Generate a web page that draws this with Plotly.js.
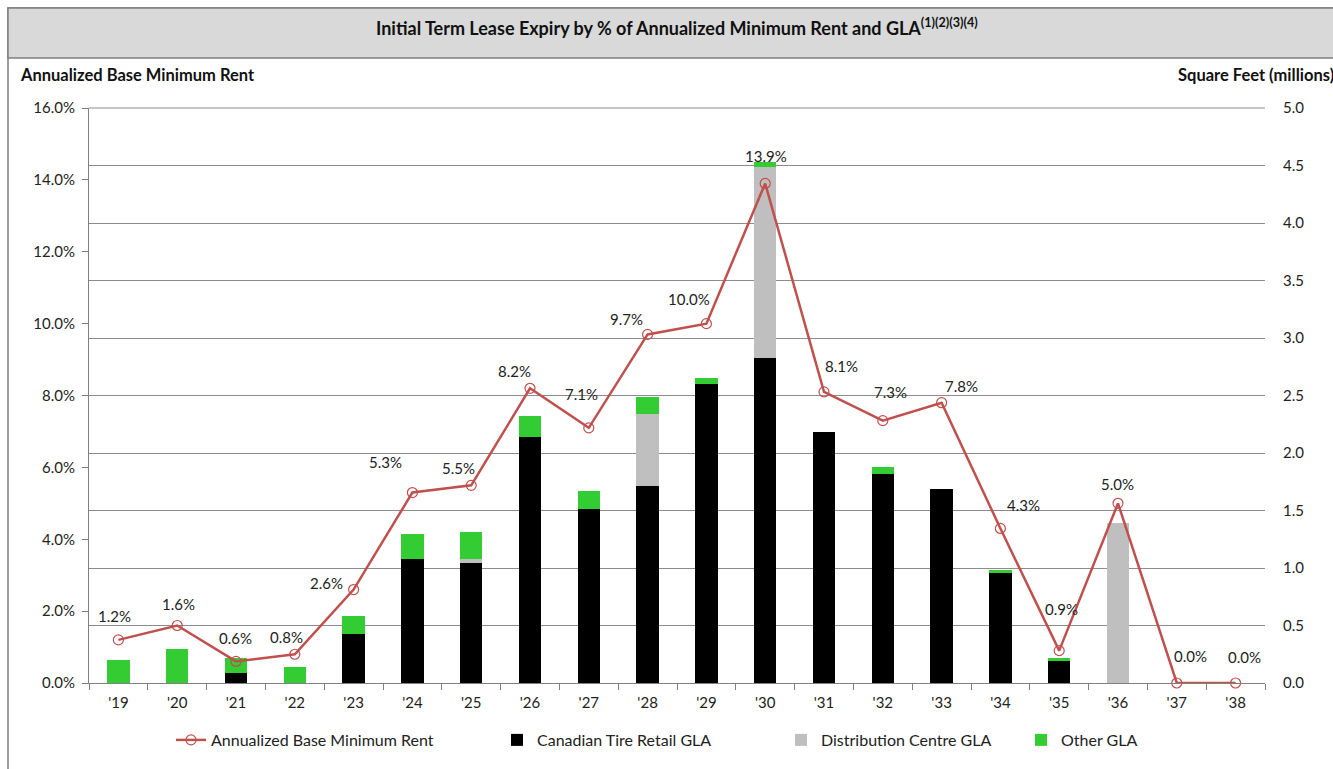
<!DOCTYPE html>
<html>
<head>
<meta charset="utf-8">
<script src="https://cdn.plot.ly/plotly-3.0.1.min.js"></script>
<style>html,body{margin:0;padding:0;background:#fff;}#chart{width:1333px;height:769px;}</style>
</head>
<body>
<div id="chart"></div>
<script>
// ---- data ----
const years = ["'19","'20","'21","'22","'23","'24","'25","'26","'27","'28","'29","'30","'31","'32","'33","'34","'35","'36","'37","'38"];
const rentPct = [1.2,1.6,0.6,0.8,2.6,5.3,5.5,8.2,7.1,9.7,10.0,13.9,8.1,7.3,7.8,4.3,0.9,5.0,0.0,0.0];
const ctrGLA  = [0,0,0.09,0,0.43,1.08,1.04,2.14,1.51,1.71,2.60,2.83,2.18,1.82,1.69,0.96,0.19,0,0,0];
const dcGLA   = [0,0,0,0,0,0,0.04,0,0,0.63,0,1.66,0,0,0,0,0,1.39,0,0];
const otherGLA= [0.20,0.30,0.13,0.14,0.15,0.22,0.23,0.18,0.16,0.15,0.05,0.04,0,0.06,0,0.02,0.03,0,0,0];
const rentLabels = rentPct.map(v => v.toFixed(1) + '%');

// ---- layout helpers (pixel -> paper) ----
const W = 1333, H = 769, L = 89, R = 1265, T = 108, B = 683;
const px = x => (x - L) / (R - L);
const py = y => (B - y) / (B - T);

const font = 'Lato, Open Sans, sans-serif';

// data-label offsets (pixels, relative to each marker), as placed in the reference
const labelDx = [-4, 1, -1, -8, -27, -27, -13, -16, -7, -21, -17, 1, 17, 8, 20, 23, 2, -1, 14, 9];
const labelDy = [24, 22, 23, 17, 7, 31, 17, 17, 34, 15, 25, 27, 26, 29, 17, 23, 42, 19, 27, 26];

const traces = [
  {type:'bar', name:'Canadian Tire Retail GLA', x:years, y:ctrGLA, yaxis:'y',
   marker:{color:'#000000'}, width:0.38, legend:'legend2', hoverinfo:'x+y'},
  {type:'bar', name:'Distribution Centre GLA', x:years, y:dcGLA, yaxis:'y',
   marker:{color:'#BFBFBF'}, width:0.38, legend:'legend3', hoverinfo:'x+y'},
  {type:'bar', name:'Other GLA', x:years, y:otherGLA, yaxis:'y',
   marker:{color:'#33CC33'}, width:0.38, legend:'legend4', hoverinfo:'x+y'},
  {type:'scatter', mode:'lines+markers', name:'Annualized Base Minimum Rent',
   x:years, y:rentPct, yaxis:'y2', legend:'legend',
   line:{color:'#C0504D', width:2.5},
   marker:{symbol:'circle-open', size:10, color:'#C0504D', line:{width:1.2}},
   text:rentLabels, hoverinfo:'x+text',
   cliponaxis:false}
];

const legendBase = {orientation:'h', yanchor:'middle', y:py(740), xanchor:'left',
  font:{family:font, size:16, color:'#222'}, bgcolor:'rgba(0,0,0,0)', itemwidth:30};

const tickFont = {family:font, size:15, color:'#222'};

const dataLabels = years.map((yr, i) => ({
  xref:'x', yref:'y2', x:yr, y:rentPct[i], text:rentLabels[i], showarrow:false,
  xanchor:'center', yanchor:'middle', xshift:labelDx[i], yshift:labelDy[i],
  font:{family:font, size:15, color:'#222'}
}));

const layout = {
  width:W, height:H,
  margin:{l:L, r:W-R, t:T, b:H-B},
  paper_bgcolor:'#ffffff', plot_bgcolor:'#ffffff',
  barmode:'stack', bargap:0.6,
  showlegend:true,
  legend: Object.assign({}, legendBase, {x:px(171)}),
  legend2: Object.assign({}, legendBase, {x:px(497)}),
  legend3: Object.assign({}, legendBase, {x:px(781)}),
  legend4: Object.assign({}, legendBase, {x:px(1021)}),
  xaxis:{type:'category', range:[-0.5, 19.5], showline:true, linecolor:'#808080', linewidth:1,
    ticks:'outside', tickson:'boundaries', ticklen:6, tickcolor:'#808080',
    ticklabelstandoff:6, tickfont:tickFont, showgrid:false, zeroline:false},
  yaxis:{side:'right', range:[0,5], dtick:0.5, tickformat:'.1f',
    showgrid:true, gridcolor:'#8C8C8C', gridwidth:1, zeroline:false,
    showline:false, ticks:'', ticklabelstandoff:17,
    tickfont:tickFont},
  yaxis2:{side:'left', overlaying:'y', range:[0,16], dtick:2, tickformat:'.1f', ticksuffix:'%',
    showgrid:false, zeroline:false, showline:true, linecolor:'#808080',
    ticks:'outside', ticklen:6, tickcolor:'#808080', ticklabelstandoff:4,
    tickfont:tickFont},
  shapes:[
    {type:'rect', xref:'paper', yref:'paper', x0:px(8), x1:px(1345), y0:py(790), y1:py(8),
     line:{color:'#7F7F7F', width:1.5}, fillcolor:'rgba(0,0,0,0)', layer:'below'},
    {type:'rect', xref:'paper', yref:'paper', x0:px(8), x1:px(1345), y0:py(58), y1:py(8),
     line:{color:'#7F7F7F', width:1.5}, fillcolor:'#D9D9D9', layer:'below'},
    {type:'line', xref:'paper', yref:'paper', x0:0, x1:1, y0:1, y1:1,
     line:{color:'#8C8C8C', width:1}}
  ],
  annotations:[
    {xref:'paper', yref:'paper', x:px(677), y:py(27), xanchor:'center', yanchor:'middle', showarrow:false,
     text:'<b>Initial Term Lease Expiry by % of Annualized Minimum Rent and GLA<sup>(1)(2)(3)(4)</sup></b>',
     font:{family:font, size:18, color:'#111'}},
    {xref:'paper', yref:'paper', x:px(18), y:py(75), xanchor:'left', yanchor:'middle', showarrow:false,
     text:'<b>Annualized Base Minimum Rent</b>', font:{family:font, size:16.5, color:'#111'}},
    {xref:'paper', yref:'paper', x:px(1176), y:py(75), xanchor:'left', yanchor:'middle', showarrow:false,
     text:'<b>Square Feet (millions)</b>', font:{family:font, size:16.5, color:'#111'}}
  ].concat(dataLabels)
};

Plotly.newPlot('chart', traces, layout, {displayModeBar:false, responsive:false});
</script>
</body>
</html>
